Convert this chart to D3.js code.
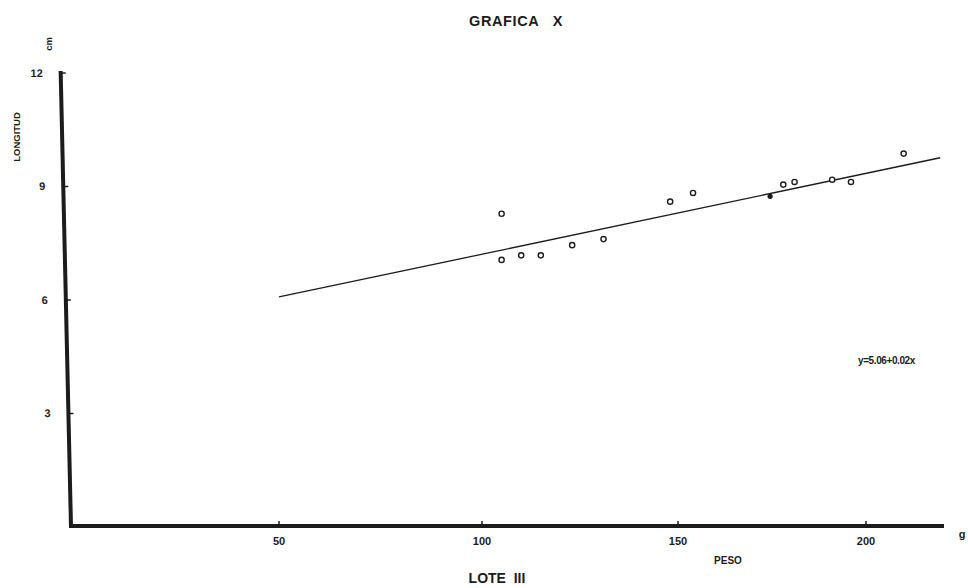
<!DOCTYPE html>
<html>
<head>
<meta charset="utf-8">
<script src="https://cdn.jsdelivr.net/npm/d3@7"></script>
<style>
  body { margin: 0; background: #fff; }
  svg { display: block; font-family: "Liberation Sans", Arial, sans-serif; }
</style>
</head>
<body>
<div id="chart"></div>
<script>
// data (peso g, longitud cm)
var peso     = [105, 105, 110, 115, 123, 131, 148, 154, 178, 181, 191, 196, 210];
var longitud = [8.28, 7.06, 7.18, 7.18, 7.45, 7.61, 8.60, 8.83, 9.05, 9.12, 9.18, 9.12, 9.87];
// the one filled dot sitting on the line
var pesoOnLine = [174.5];
var longOnLine = [8.74];
// fitted line as drawn
var lineX = [50, 219.7];
var lineY = [6.08, 9.76];

var xTicks = [50, 100, 150, 200];
var yTicks = [3, 6, 9, 12];

var width = 968, height = 588;
var ink = "#1c1c1c";

var svg = d3.select("#chart").append("svg")
    .attr("width", width)
    .attr("height", height);

// hand drawn axis, ticks are not evenly spaced
var x = d3.scaleLinear()
    .domain([0, 50, 100, 150, 200, 230])
    .range([76, 279, 482, 678, 866, 979]);
var y = d3.scaleLinear()
    .domain([0, 12])
    .range([527, 73]);

var x0 = x.invert(70), x1 = x.invert(944);

// title
svg.append("text")
    .attr("x", 516).attr("y", 26)
    .attr("text-anchor", "middle")
    .style("font-size", "14.5px")
    .style("font-weight", "bold")
    .style("letter-spacing", "0.6px")
    .style("white-space", "pre")
    .attr("fill", ink)
    .text("GRAFICA   X");

// y axis, slightly slanted like the original
var gy = svg.append("g")
    .attr("transform", "translate(71," + y(0) + ") skewX(1.3) translate(0," + (-y(0)) + ")");
gy.append("line")
    .attr("x1", 0).attr("x2", 0)
    .attr("y1", y(12) - 2).attr("y2", y(0) + 1)
    .attr("stroke", ink).attr("stroke-width", 4);
gy.selectAll(".ytick")
    .data(yTicks)
    .enter().append("line")
    .attr("x1", 1).attr("x2", 5)
    .attr("y1", function(d) { return y(d); })
    .attr("y2", function(d) { return y(d); })
    .attr("stroke", ink).attr("stroke-width", 1.5);
gy.selectAll(".ylab")
    .data(yTicks)
    .enter().append("text")
    .attr("x", -18)
    .attr("y", function(d) { return y(d) + 4; })
    .attr("text-anchor", "end")
    .style("font-size", "11px")
    .style("font-weight", "bold")
    .attr("fill", ink)
    .text(function(d) { return d; });

// x axis
svg.append("line")
    .attr("x1", x(x0)).attr("x2", x(x1))
    .attr("y1", y(0) - 1).attr("y2", y(0) - 1)
    .attr("stroke", ink).attr("stroke-width", 4);
svg.selectAll(".xtick")
    .data(xTicks)
    .enter().append("line")
    .attr("x1", function(d) { return x(d); })
    .attr("x2", function(d) { return x(d); })
    .attr("y1", y(0) - 2).attr("y2", y(0) - 6)
    .attr("stroke", ink).attr("stroke-width", 1.5);
svg.selectAll(".xlab")
    .data(xTicks)
    .enter().append("text")
    .attr("x", function(d) { return x(d); })
    .attr("y", y(0) + 18)
    .attr("text-anchor", "middle")
    .style("font-size", "11px")
    .style("font-weight", "bold")
    .attr("fill", ink)
    .text(function(d) { return d; });

// axis labels
svg.append("text")
    .attr("transform", "translate(20,137) rotate(-90)")
    .attr("text-anchor", "middle")
    .style("font-size", "9.5px")
    .style("font-weight", "bold")
    .attr("fill", ink)
    .text("LONGITUD");
svg.append("text")
    .attr("transform", "translate(52,44) rotate(-90)")
    .attr("text-anchor", "middle")
    .style("font-size", "9.5px")
    .style("font-weight", "bold")
    .attr("fill", ink)
    .text("cm");
svg.append("text")
    .attr("x", 962).attr("y", 538)
    .attr("text-anchor", "middle")
    .style("font-size", "11px")
    .style("font-weight", "bold")
    .attr("fill", ink)
    .text("g");
svg.append("text")
    .attr("x", 728).attr("y", 564)
    .attr("text-anchor", "middle")
    .style("font-size", "10px")
    .style("font-weight", "bold")
    .attr("fill", ink)
    .text("PESO");
svg.append("text")
    .attr("x", 497).attr("y", 583)
    .attr("text-anchor", "middle")
    .style("font-size", "14px")
    .style("font-weight", "bold")
    .style("white-space", "pre")
    .attr("fill", ink)
    .text("LOTE  III");

// regression line
var line = d3.line()
    .x(function(d) { return x(d[0]); })
    .y(function(d) { return y(d[1]); });
svg.append("path")
    .datum(lineX.map(function(d, i) { return [d, lineY[i]]; }))
    .attr("d", line)
    .attr("fill", "none")
    .attr("stroke", ink)
    .attr("stroke-width", 1.3);

svg.append("text")
    .attr("x", 858).attr("y", 364)
    .style("font-size", "10px")
    .style("font-weight", "bold")
    .style("letter-spacing", "-0.4px")
    .attr("fill", ink)
    .text("y=5.06+0.02x");

// points
svg.selectAll(".pt")
    .data(peso)
    .enter().append("circle")
    .attr("cx", function(d) { return x(d); })
    .attr("cy", function(d, i) { return y(longitud[i]); })
    .attr("r", 2.6)
    .attr("fill", "#fff")
    .attr("stroke", ink)
    .attr("stroke-width", 1.4);
svg.selectAll(".ptf")
    .data(pesoOnLine)
    .enter().append("circle")
    .attr("cx", function(d) { return x(d); })
    .attr("cy", function(d, i) { return y(longOnLine[i]); })
    .attr("r", 2.6)
    .attr("fill", ink);
</script>
</body>
</html>
